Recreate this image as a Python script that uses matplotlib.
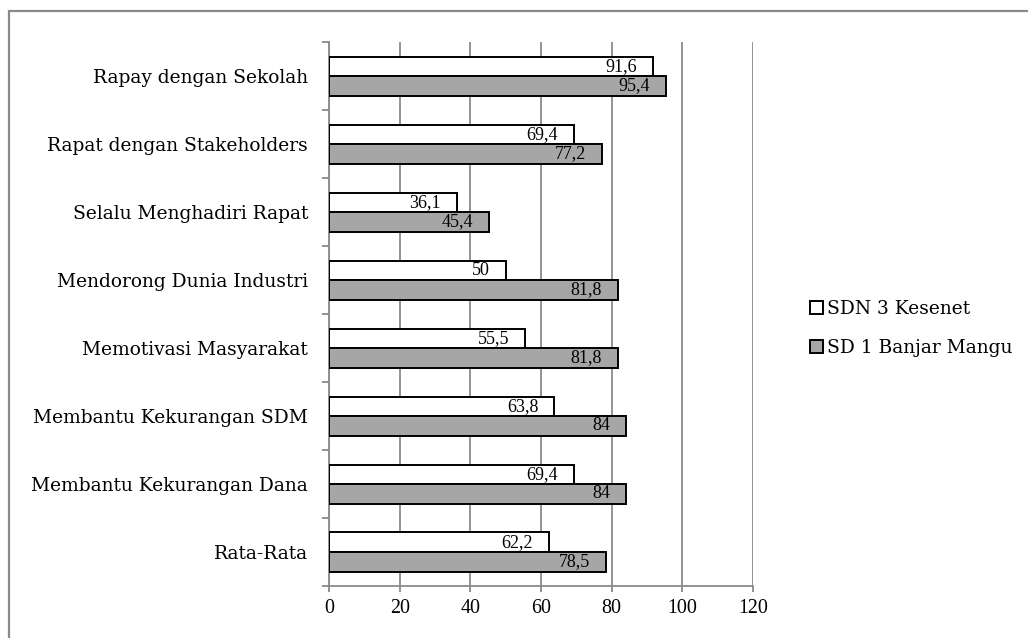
import matplotlib.pyplot as plt
from matplotlib.patches import Patch, Rectangle
import numpy as np

# data
kategori = ['Rapay dengan Sekolah', 'Rapat dengan Stakeholders', 'Selalu Menghadiri Rapat',
            'Mendorong Dunia Industri', 'Memotivasi Masyarakat', 'Membantu Kekurangan SDM',
            'Membantu Kekurangan Dana', 'Rata-Rata']
kesenet = [91.6, 69.4, 36.1, 50, 55.5, 63.8, 69.4, 62.2]
banjar_mangu = [95.4, 77.2, 45.4, 81.8, 81.8, 84, 84, 78.5]
seri = ['SDN 3 Kesenet', 'SD 1 Banjar Mangu']

huruf_teks = ['DejaVu Serif']
huruf_angka = ['Liberation Serif', 'DejaVu Serif']
abu_garis = '#8a8a8a'
abu = '#a6a6a6'

fig = plt.figure(figsize=(10.28, 6.38), dpi=100)
ax = fig.add_axes([0.320, 0.0815, 0.4125, 0.8525])

# frame around the whole chart
fig.patches.append(Rectangle((9/1028, -0.1), 1.2, 1 - 11/638 + 0.1, transform=fig.transFigure,
                             fill=False, edgecolor=abu_garis, linewidth=1.6))

y = np.arange(len(kategori))
h = 0.287
b1 = ax.barh(y - h/2, kesenet, height=h, color='white', edgecolor='black', linewidth=1.4, zorder=3)
b2 = ax.barh(y + h/2, banjar_mangu, height=h, color=abu, edgecolor='black', linewidth=1.4, zorder=3)

def fmt(v):
    return ('%g' % v).replace('.', ',')

for bars, vals in [(b1, kesenet), (b2, banjar_mangu)]:
    for bar, v in zip(bars, vals):
        ax.annotate(fmt(v), (v, bar.get_y() + bar.get_height()/2), xytext=(-11.5, 0),
                    textcoords='offset points', ha='right', va='center',
                    fontsize=13, family=huruf_angka, zorder=4)

ax.set_xlim(0, 120)
ax.set_xticks(range(0, 121, 20))
ax.set_xticklabels([str(t) for t in range(0, 121, 20)], family=huruf_angka, fontsize=14.4)
ax.set_ylim(len(kategori) - 0.5, -0.5)
ax.set_yticks(np.arange(-0.5, len(kategori)))
ax.set_yticklabels([])
ax.set_yticks(y, minor=True)
ax.set_yticklabels(kategori, minor=True, family=huruf_teks, fontsize=13.4)
ax.tick_params(axis='y', which='minor', length=0, pad=15)
ax.tick_params(axis='y', which='major', length=4.8, width=1.3, color=abu_garis, direction='out')
ax.tick_params(axis='x', length=4.3, width=1.3, color=abu_garis, pad=5)

ax.grid(axis='x', color=abu_garis, linewidth=1.3, zorder=0)
for s in ['top', 'right']:
    ax.spines[s].set_visible(False)
for s in ['left', 'bottom']:
    ax.spines[s].set_color(abu_garis)
    ax.spines[s].set_linewidth(1.3)

handles = [Patch(facecolor='white', edgecolor='black', linewidth=1.4),
           Patch(facecolor=abu, edgecolor='black', linewidth=1.4)]
fig.legend(handles, seri, loc='center left', bbox_to_anchor=(0.788, 0.485), frameon=False,
           prop={'family': huruf_teks, 'size': 13.4}, borderpad=0, borderaxespad=0,
           handlelength=0.68, handleheight=0.68, handletextpad=0.22, labelspacing=1.1)

fig.savefig('out.png', dpi=100, facecolor='white')
